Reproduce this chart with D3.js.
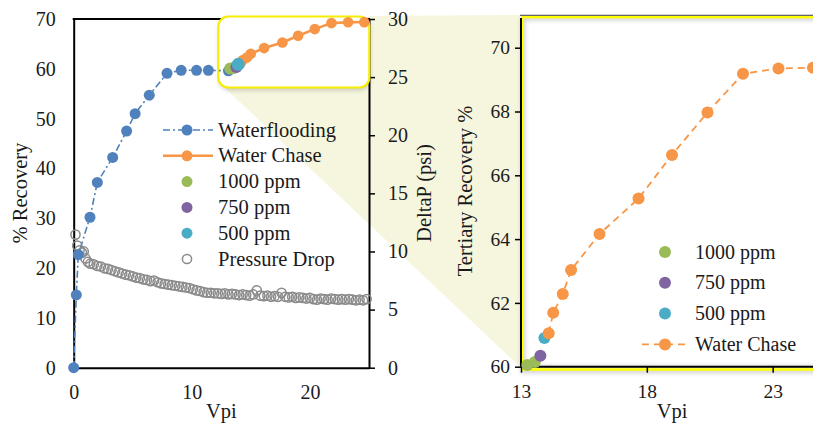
<!DOCTYPE html>
<html>
<head>
<meta charset="utf-8">
<script src="https://cdn.jsdelivr.net/npm/d3@7"></script>
<style>
html,body{margin:0;padding:0;background:#fff;overflow:hidden;}
svg{display:block;}
text{font-family:"Liberation Serif",serif;}
</style>
</head>
<body>
<svg id="chart" width="813" height="426"></svg>
<script>
// waterflooding (Vpi, % recovery)
var wfVpi = [0, 0.22, 0.39, 1.38, 2.0, 3.3, 4.48, 5.2, 6.4, 7.9, 9.1, 10.4, 11.4, 13.1];
var wfRec = [0, 14.6, 22.7, 30.2, 37.2, 42.2, 47.5, 51.0, 54.7, 59.1, 59.7, 59.7, 59.7, 59.6];

// polymer slugs
var p1000Vpi = [13.25, 13.55];
var p1000Rec = [60.05, 60.15];
var p750Vpi = [13.77];
var p750Rec = [60.34];
var p500Vpi = [13.93];
var p500Rec = [60.9];

// water chase
var wcVpi = [14.10, 14.28, 14.66, 14.99, 16.12, 17.67, 19.0, 20.41, 21.82, 23.23, 24.6];
var wcRec = [61.05, 61.69, 62.28, 63.03, 64.16, 65.27, 66.64, 67.97, 69.18, 69.35, 69.37];

// pressure drop (Vpi, psi)
var pdVpi = [0.15, 0.3, 0.5, 0.7, 0.85, 1.0, 1.2, 1.4, 1.7, 2.0, 2.3, 2.6, 2.9, 3.2, 3.5, 3.8, 4.1, 4.4, 4.7, 5.0,
  5.3, 5.6, 5.9, 6.2, 6.5, 6.8, 7.1, 7.4, 7.7, 8.0, 8.3, 8.6, 8.9, 9.2, 9.5, 9.8, 10.1, 10.4, 10.7, 11.0,
  11.3, 11.6, 11.9, 12.2, 12.5, 12.8, 13.1, 13.4, 13.7, 14.0, 14.3, 14.6, 14.9, 15.2, 15.5, 15.8, 16.1, 16.4, 16.7, 17.0,
  17.3, 17.6, 17.9, 18.2, 18.5, 18.8, 19.1, 19.4, 19.7, 20.0, 20.3, 20.6, 20.9, 21.2, 21.5, 21.8, 22.1, 22.4, 22.7, 23.0,
  23.3, 23.6, 23.9, 24.2, 24.5, 24.8];
var pdPsi = [11.45, 10.5, 10.1, 9.9, 10.0, 9.4, 9.1, 8.95, 8.9, 8.75, 8.7, 8.55, 8.5, 8.4, 8.3, 8.2, 8.1, 8.0, 7.95, 7.85,
  7.75, 7.7, 7.6, 7.55, 7.45, 7.5, 7.35, 7.25, 7.2, 7.15, 7.1, 7.05, 7.0, 6.95, 6.9, 6.85, 6.75, 6.65, 6.6, 6.5,
  6.45, 6.45, 6.4, 6.4, 6.35, 6.4, 6.3, 6.35, 6.3, 6.25, 6.3, 6.25, 6.2, 6.3, 6.65, 6.2, 6.15, 6.2, 6.1, 6.15,
  6.1, 6.45, 6.1, 6.05, 6.1, 6.0, 6.05, 6.0, 5.95, 6.0, 5.9, 5.85, 5.95, 5.9, 5.85, 5.95, 5.9, 5.85, 5.9, 5.85,
  5.9, 5.85, 5.8, 5.85, 5.8, 5.9];

var recTicks = [0, 10, 20, 30, 40, 50, 60, 70];
var vpiTicks = [0, 10, 20];
var psiTicks = [0, 5, 10, 15, 20, 25, 30];
var zoomVpiTicks = [13, 18, 23];
var zoomRecTicks = [60, 62, 64, 66, 68, 70];

var leftLegend = ["Waterflooding", "Water Chase", "1000 ppm", "750 ppm", "500 ppm", "Pressure Drop"];
var rightLegend = ["1000 ppm", "750 ppm", "500 ppm", "Water Chase"];

var BLUE = "#4f81bd", ORANGE = "#f79646", GREEN = "#9bbb59", PURPLE = "#8064a2", CYAN = "#4bacc6", GRAY = "#8a8a8a";
var FONT = "Liberation Serif";

function zip(a, b){ return a.map(function(v, i){ return [v, b[i]]; }); }

var svg = d3.select("#chart");
var defs = svg.append("defs");
var f1 = defs.append("filter").attr("id", "blur").attr("x", "-10%").attr("y", "-10%").attr("width", "120%").attr("height", "120%");
f1.append("feGaussianBlur").attr("stdDeviation", 2.5);
defs.append("clipPath").attr("id", "panelClip").append("rect")
  .attr("x", 523).attr("y", 18).attr("width", 300).attr("height", 350);

// scales
var lx = d3.scaleLinear().domain([0, 25]).range([73.7, 369]);
var ly = d3.scaleLinear().domain([0, 70]).range([367.7, 19]);
var ly2 = d3.scaleLinear().domain([0, 30]).range([367.7, 19]);
var zx = d3.scaleLinear().domain([13, 25]).range([521, 823]);
var zy = d3.scaleLinear().domain([60, 71]).range([366.7, 15.8]);

function label(g, x, y, txt, size, anchor, rot){
  var t = g.append("text").attr("fill", "#1a1a1a").style("font-family", FONT)
    .style("font-size", size + "px").attr("text-anchor", anchor || "start").text(txt);
  if (rot) t.attr("transform", "translate(" + x + "," + y + ") rotate(" + rot + ")");
  else t.attr("x", x).attr("y", y);
  return t;
}

// beige connector from callout to zoom panel
svg.append("polygon")
  .attr("points", [[224, 87], [369, 16], [521, 15], [521, 368]].map(function(p){ return p.join(","); }).join(" "))
  .attr("fill", "#f6f6df");

// ---- zoom panel ----
var panel = svg.append("g");
panel.append("rect").attr("x", 521).attr("y", 17).attr("width", 310).attr("height", 356)
  .attr("fill", "#000").attr("opacity", 0.18).attr("filter", "url(#blur)");
panel.append("rect").attr("x", 520.5).attr("y", 15.5).attr("width", 310).attr("height", 355).attr("fill", "#fff");
panel.append("rect").attr("x", 522).attr("y", 17).attr("width", 310).attr("height", 352)
  .attr("fill", "none").attr("stroke", "#000").attr("stroke-opacity", 0.2).attr("stroke-width", 6)
  .attr("filter", "url(#blur)").attr("clip-path", "url(#panelClip)");
panel.append("rect").attr("x", 522.5).attr("y", 17).attr("width", 310).attr("height", 352.5)
  .attr("fill", "none").attr("stroke", "#ffff00").attr("stroke-width", 2.6);
panel.append("line").attr("x1", 520).attr("x2", 813).attr("y1", 15.3).attr("y2", 15.3)
  .attr("stroke", "#666").attr("stroke-width", 1.2);

function styleAxis(g, size){
  g.select(".domain").attr("stroke", "#000").attr("stroke-width", 2);
  g.selectAll(".tick line").attr("stroke", "#000").attr("stroke-width", 1.5);
  g.selectAll(".tick text").attr("fill", "#1a1a1a")
    .style("font-family", FONT).style("font-size", size + "px");
}

var zxAxis = panel.append("g").attr("transform", "translate(0,366.7)")
  .call(d3.axisBottom(zx).tickValues(zoomVpiTicks).tickSize(6).tickSizeOuter(0).tickPadding(11.5));
styleAxis(zxAxis, 19.5);
zxAxis.select(".domain").attr("d", "M" + zx.range()[0] + ",0H813");
var zyAxis = panel.append("g").attr("transform", "translate(521,0)")
  .call(d3.axisLeft(zy).tickValues(zoomRecTicks).tickSize(6).tickSizeOuter(0).tickPadding(5));
styleAxis(zyAxis, 19.5);
zyAxis.select(".domain").attr("d", "M0," + zy.range()[0] + "V18");

var zline = d3.line().x(function(d){ return zx(d[0]); }).y(function(d){ return zy(d[1]); });
panel.append("path").datum(zip(wcVpi, wcRec)).attr("d", zline)
  .attr("fill", "none").attr("stroke", ORANGE).attr("stroke-width", 1.8).attr("stroke-dasharray", "7,5");

function dots(g, xs, ys, sx, sy, color, r){
  g.selectAll(null).data(zip(xs, ys)).enter().append("circle")
    .attr("cx", function(d){ return sx(d[0]); })
    .attr("cy", function(d){ return sy(d[1]); })
    .attr("r", r).attr("fill", color);
}
dots(panel, p1000Vpi, p1000Rec, zx, zy, GREEN, 6);
dots(panel, p750Vpi, p750Rec, zx, zy, PURPLE, 6);
dots(panel, p500Vpi, p500Rec, zx, zy, CYAN, 6);
dots(panel, wcVpi, wcRec, zx, zy, ORANGE, 6);

// zoom legend
var zleg = panel.append("g");
var zcolors = [GREEN, PURPLE, CYAN, ORANGE];
rightLegend.forEach(function(name, i){
  var y = 252 + i * 30.8;
  if (i === 3) {
    zleg.append("line").attr("x1", 642).attr("x2", 689).attr("y1", y).attr("y2", y)
      .attr("stroke", ORANGE).attr("stroke-width", 1.8).attr("stroke-dasharray", "7,5");
  }
  zleg.append("circle").attr("cx", 665).attr("cy", y).attr("r", 6).attr("fill", zcolors[i]);
  label(zleg, 695, y + 6.5, name, 20);
});

label(svg, 672, 418, "Vpi", 20.5, "middle");
label(svg, 472, 191, "Tertiary Recovery %", 20.5, "middle", -90);

// ---- main chart ----
var main = svg.append("g");
var lxAxis = main.append("g").attr("transform", "translate(0,367.7)")
  .call(d3.axisBottom(lx).tickValues(vpiTicks).tickSize(0).tickSizeOuter(0).tickPadding(17.5));
styleAxis(lxAxis, 20);
var lyAxis = main.append("g").attr("transform", "translate(73.7,0)")
  .call(d3.axisLeft(ly).tickValues(recTicks).tickSize(0).tickSizeOuter(0).tickPadding(18));
styleAxis(lyAxis, 20);
var ryAxis = main.append("g").attr("transform", "translate(369,0)")
  .call(d3.axisRight(ly2).tickValues(psiTicks).tickSize(6).tickSizeOuter(0).tickPadding(13));
styleAxis(ryAxis, 20);
main.append("line").attr("x1", 72.7).attr("x2", 370).attr("y1", 19).attr("y2", 19)
  .attr("stroke", "#000").attr("stroke-width", 2);

// callout box
main.append("rect").attr("x", 219).attr("y", 19).attr("width", 151).attr("height", 71).attr("rx", 10)
  .attr("fill", "#000").attr("opacity", 0.2).attr("filter", "url(#blur)");
main.append("rect").attr("x", 218.3).attr("y", 16.5).attr("width", 151).attr("height", 71).attr("rx", 10)
  .attr("fill", "#fff").attr("stroke", "#f5ee00").attr("stroke-width", 2.2);

var lline = d3.line().x(function(d){ return lx(d[0]); }).y(function(d){ return ly(d[1]); });
main.append("path").datum(zip(wfVpi, wfRec)).attr("d", lline)
  .attr("fill", "none").attr("stroke", BLUE).attr("stroke-width", 1.6).attr("stroke-dasharray", "7,3,2,3");
main.append("path").datum(zip(wcVpi, wcRec)).attr("d", lline)
  .attr("fill", "none").attr("stroke", ORANGE).attr("stroke-width", 2.6);

main.selectAll(null).data(zip(pdVpi, pdPsi)).enter().append("circle")
  .attr("cx", function(d){ return lx(d[0]); })
  .attr("cy", function(d){ return ly2(d[1]); })
  .attr("r", 4.6).attr("fill", "none").attr("stroke", GRAY).attr("stroke-width", 1.5);

dots(main, wfVpi, wfRec, lx, ly, BLUE, 5.5);
dots(main, wcVpi, wcRec, lx, ly, ORANGE, 5.3);
dots(main, p1000Vpi, p1000Rec, lx, ly, GREEN, 6);
dots(main, p750Vpi, p750Rec, lx, ly, PURPLE, 6);
dots(main, p500Vpi, p500Rec, lx, ly, CYAN, 6.5);

// main legend
var leg = main.append("g");
var lcolors = [BLUE, ORANGE, GREEN, PURPLE, CYAN, GRAY];
leftLegend.forEach(function(name, i){
  var y = 130 + i * 25.8;
  if (i === 0) {
    leg.append("line").attr("x1", 163).attr("x2", 213).attr("y1", y).attr("y2", y)
      .attr("stroke", BLUE).attr("stroke-width", 1.6).attr("stroke-dasharray", "7,3,2,3");
  } else if (i === 1) {
    leg.append("line").attr("x1", 163).attr("x2", 213).attr("y1", y).attr("y2", y)
      .attr("stroke", ORANGE).attr("stroke-width", 2.6);
  }
  var c = leg.append("circle").attr("cx", 187).attr("cy", y);
  if (i === 5) c.attr("r", 4.6).attr("fill", "none").attr("stroke", GRAY).attr("stroke-width", 1.5);
  else c.attr("r", 5.5).attr("fill", lcolors[i]);
  label(leg, 218, y + 6.5, name, 20.5);
});

label(svg, 221.4, 418, "Vpi", 20.5, "middle");
label(svg, 27, 193, "% Recovery", 20.5, "middle", -90);
label(svg, 431, 193, "DeltaP (psi)", 20.5, "middle", -90);
</script>
</body>
</html>
